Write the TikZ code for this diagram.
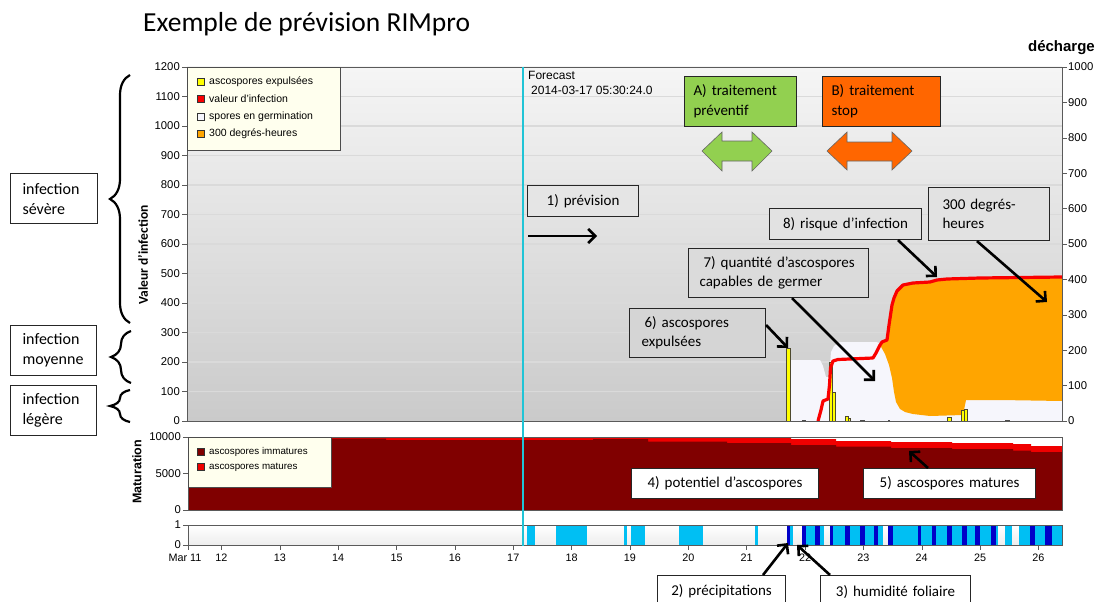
\documentclass[tikz,border=0pt]{standalone}
\usepackage{fontspec}
\setmainfont{Carlito}
\newfontfamily\arialf{Liberation Sans}
\usetikzlibrary{arrows.meta,decorations.pathreplacing,calc}

\definecolor{cyanl}{RGB}{32,196,214}
\definecolor{legfill}{RGB}{255,255,238}
\definecolor{yel}{RGB}{255,255,0}
\definecolor{redl}{RGB}{250,0,0}
\definecolor{orng}{RGB}{255,165,0}
\definecolor{spore}{RGB}{246,246,252}
\definecolor{matd}{RGB}{128,0,0}
\definecolor{matr}{RGB}{240,0,0}
\definecolor{lblue}{RGB}{0,191,243}
\definecolor{dblue}{RGB}{0,0,200}
\definecolor{greenb}{RGB}{146,208,80}
\definecolor{orangeb}{RGB}{255,102,0}
\definecolor{gridc}{RGB}{218,218,218}
\definecolor{bgtop}{RGB}{245,245,245}
\definecolor{bgbot}{RGB}{202,202,202}
\definecolor{axisc}{RGB}{90,90,90}
\definecolor{fa}{RGB}{229,229,229}
\definecolor{fb}{RGB}{226,226,226}
\definecolor{fc}{RGB}{219,219,219}
\definecolor{fd}{RGB}{213,213,213}

\newcommand\ind[1]{\hspace*{#1pt}}

\begin{document}
\begin{tikzpicture}[x=1pt,y=-1pt,
  ann/.style={draw=black!85, line width=1.1pt, inner sep=0pt, anchor=north west, font=\fontsize{15}{19}\selectfont, align=left},
  bigarrow/.style={line width=2.6pt, -{Straight Barb[length=7pt,width=14pt]}},
  bracestyle/.style={line width=2.2pt, decorate, decoration={brace, amplitude=20pt}},
  axlab/.style={font=\arialf\fontsize{11.3}{13}\selectfont, inner sep=1pt},
  xlab/.style={font=\arialf\fontsize{10.8}{12}\selectfont, inner sep=0pt},
  leg/.style={font=\arialf\fontsize{10.5}{12}\selectfont, inner sep=0pt, anchor=west},
  bar/.style={fill=yel, draw=black!60!olive, line width=0.6pt},
  frame/.style={draw=axisc, line width=0.8pt},
]
\useasboundingbox (0,0) rectangle (1096,602);
\fill[white] (0,0) rectangle (1096,602);

% title
\node[anchor=base west, inner sep=0pt, font=\fontsize{27.5}{32}\selectfont] (title) at (143,32) {Exemple de prévision RIMpro};
\node[anchor=base east, inner sep=0pt, font=\arialf\bfseries\fontsize{15}{18}\selectfont] (dech) at (1095,52) {décharge};

% ---------- main plot ----------
\shade[top color=bgtop, bottom color=bgbot] (187,67) rectangle (1062,421);
\foreach \v in {1,...,11} \draw[gridc, line width=1.2pt] (187,{421-\v*29.5}) -- (1062,{421-\v*29.5});

% spores en germination
\fill[spore] (790,421) -- (790,360) -- (820,360) -- (823,366) -- (826,377) -- (829,377) -- (831,352) -- (834,346) -- (840,342) -- (876,342) -- (880,343) -- (886,340) -- (1062,340) -- (1062,421) -- cycle;
% 300 degres-heures
\fill[orng] (880,345) -- (882,342) -- (887,340) -- (889,325) -- (892,305) -- (894,298) -- (897,291) -- (903,285) -- (913,283) -- (930,282) -- (937,280) -- (947,279) -- (980,278) -- (1062,277) -- (1062,401) -- (1000,400) -- (966,400) -- (963,415) -- (930,416) -- (913,414) -- (905,412) -- (900,409) -- (896,402) -- (894,392) -- (892,378) -- (889,365) -- (885,354) -- cycle;
% ascospores expulsees
\filldraw[bar] (786.5,348) rectangle (790,421);
\filldraw[bar] (829,362) rectangle (832.5,421);
\filldraw[bar] (832.5,392) rectangle (835.5,421);
\filldraw[bar] (845,416) rectangle (848,421);
\filldraw[bar] (848,418) rectangle (850,421);
\filldraw[bar] (947,417) rectangle (951,421);
\filldraw[bar] (961,410) rectangle (964,421);
\filldraw[bar] (964,409) rectangle (967,421);
\foreach \a/\b in {802/806,860/865,888/890,1005/1010} \fill[black!70] (\a,419.5) rectangle (\b,421);
% valeur d'infection
\draw[redl, line width=3.2pt, line join=round] (818,421) -- (821,410) -- (823,401) -- (828,399) -- (829.5,385) -- (830.5,368) -- (833,361) -- (838,359.5) -- (873,358) -- (876,353) -- (880,345) -- (882,342) -- (887,340) -- (889,325) -- (892,305) -- (894,298) -- (897,291) -- (903,285) -- (913,283) -- (930,282) -- (937,280) -- (947,279) -- (980,278) -- (1062,277);

\draw[frame] (187,67) rectangle (1062,421);

% legend
\draw[black!70, fill=legfill, line width=0.8pt] (187,67) rectangle (340,150);
\foreach \c/\y/\t [count=\i] in {yel/82/ascospores expulsées, redl/99/valeur d’infection, spore/117/spores en germination, orng/134/300 degrés-heures} {
  \filldraw[fill=\c, draw=black!80, line width=0.6pt] (197,{\y-3.5}) rectangle (204,{\y+3.5});
  \node[leg] (leg\i) at (209,\y) {\t};
}

% axes
\foreach \v in {0,...,12} {
  \draw[axisc] (182,{421-\v*29.5}) -- (187,{421-\v*29.5});
  \pgfmathtruncatemacro\lab{\v*100}
  \node[axlab, anchor=east] (yl\v) at (181,{421-\v*29.5}) {\lab};
}
\foreach \v in {0,...,10} {
  \draw[axisc] (1062,{421-\v*35.4}) -- (1067,{421-\v*35.4});
  \pgfmathtruncatemacro\lab{\v*100}
  \node[axlab, anchor=west] (yr\v) at (1067,{421-\v*35.4}) {\lab};
}
\node[rotate=90, inner sep=0pt, font=\bfseries\fontsize{13.5}{15}\selectfont] (ylab) at (143,255) {Valeur d’infection};

% ---------- maturation ----------
\fill[white] (188,437) rectangle (1062,510);
\fill[matr] (188,510) -- (188,437) -- (791,437) -- (791,439) -- (836,439) -- (836,441) -- (891,441) -- (891,442) -- (952,442) -- (952,443) -- (1013,443) -- (1013,444) -- (1031,444) -- (1031,446) -- (1062,446) -- (1062,510) -- cycle;
\fill[matd] (188,510) -- (188,437) -- (331,437) -- (331,438.5) -- (386,438.5) -- (386,440) -- (593,440) -- (593,439) -- (648,439) -- (648,441.5) -- (727,441.5) -- (727,443) -- (791,443) -- (791,445) -- (836,445) -- (836,446.5) -- (891,446.5) -- (891,448) -- (952,448) -- (952,449) -- (1013,449) -- (1013,450.5) -- (1031,450.5) -- (1031,452) -- (1062,452) -- (1062,510) -- cycle;
\draw[frame] (188,437) rectangle (1062,510);
\draw[black!70, fill=legfill, line width=0.8pt] (188,437) rectangle (331,487);
\filldraw[fill=matd, draw=black!80, line width=0.6pt] (197,448.5) rectangle (204,455.5);
\node[leg, font=\arialf\fontsize{9.8}{12}\selectfont] (mleg1) at (209,452) {ascospores immatures};
\filldraw[fill=matr, draw=black!80, line width=0.6pt] (197,463.5) rectangle (204,470.5);
\node[leg, font=\arialf\fontsize{9.8}{12}\selectfont] (mleg2) at (209,467) {ascospores matures};
\foreach \y/\t [count=\i] in {437/10000,473.5/5000,510/0} {
  \draw[axisc] (183,\y) -- (188,\y);
  \node[axlab, anchor=east] (ml\i) at (182,\y) {\t};
}
\node[rotate=90, inner sep=0pt, font=\arialf\bfseries\fontsize{12.5}{14}\selectfont] (matlab) at (137,472) {Maturation};

% ---------- timeline ----------
\shade[top color=white, bottom color=gray!14] (188,525) rectangle (1062,545);
\foreach \a/\b in {527/535,556/586.5,624/627,631/645,679/703,755/758,790/793,806/815,820/824,833/845,850/860,865/874,878/883,893/918,921/932,936/947,952/962,967/975,980/991,996/998,1005/1012,1019/1030,1035/1045,1052/1062}
  \fill[lblue] (\a,525) rectangle (\b,545);
\foreach \a/\b in {787/790,802/806,815/820,830/833,845/850,860/865,874/878,888/893,918/921,932/936,947/952,962/967,975/980,991/996,1030/1035,1045/1052}
  \fill[dblue] (\a,525) rectangle (\b,545);
\draw[frame] (188,525) rectangle (1062,545);
\foreach \y/\t [count=\i] in {525/1,545/0} {
  \draw[axisc] (183,\y) -- (188,\y);
  \node[axlab, anchor=east] (tl\i) at (182,\y) {\t};
}
\draw[axisc] (188,545) -- (188,550);
\node[xlab] (xl11) at (185,558) {Mar 11};
\foreach \d in {12,...,26} {
  \pgfmathsetmacro\xx{221.5+(\d-12)*58.35}
  \draw[axisc] (\xx,545) -- (\xx,550);
  \node[xlab] (xl\d) at (\xx,558) {\d};
}

% forecast line
\draw[cyanl, line width=2.5pt] (523,67) -- (523,546);
\node[anchor=west, inner sep=0pt, font=\arialf\fontsize{12}{14}\selectfont] (fc1) at (528,75) {Forecast};
\node[anchor=west, inner sep=0pt, font=\arialf\fontsize{12}{14}\selectfont] (fc2) at (531,90) {2014-03-17 05:30:24.0};

% ---------- treatment boxes ----------
\node[ann, fill=greenb, minimum height=50pt, text width=112pt, font=\fontsize{15}{20}\selectfont] (bA) at (684,76) {\ind{9}A) traitement\\\ind{9}préventif};
\node[ann, fill=orangeb, minimum height=50pt, text width=118pt, font=\fontsize{15}{20}\selectfont] (bB) at (822,76) {\ind{9}B) traitement\\\ind{9}stop};
\filldraw[fill=greenb, draw=black!60, line width=0.6pt] (702,151) -- (722,132) -- (722,141) -- (752,141) -- (752,132) -- (772,151) -- (752,171) -- (752,161) -- (722,161) -- (722,171) -- cycle;
\filldraw[fill=orangeb, draw=black!60, line width=0.6pt] (827,151) -- (847,132) -- (847,142) -- (892,142) -- (892,132) -- (912,151) -- (892,170) -- (892,161) -- (847,161) -- (847,170) -- cycle;

% ---------- annotations ----------
\node[ann, fill=fa, minimum height=31pt, text width=111pt, align=center] (b1) at (527,185) {1) prévision};
\coordinate (p1s) at (528,236);
\coordinate (p1e) at (597,236);
\draw[bigarrow] (p1s) -- (p1e);

\node[ann, fill=fb, minimum height=31pt, text width=152pt, align=center] (b8) at (769,208) {8) risque d’infection};
\node[ann, fill=fb, minimum height=53pt, text width=121pt] (b300) at (928,187) {\ind{14}300 degrés-\\\ind{14}heures};
\node[ann, fill=fc, minimum height=49pt, text width=180pt] (b7) at (688,248) {\ind{15}7) quantité d’ascospores\\\ind{11}capables de germer};
\node[ann, fill=fd, minimum height=49pt, text width=136pt] (b6) at (629,308) {\ind{15}6) ascospores\\\ind{12}expulsées};

\coordinate (t8) at (937,277);
\coordinate (t300) at (1047,302);
\coordinate (t7) at (875,381);
\coordinate (t6) at (788,348);
\draw[bigarrow] ($(b8.south west)+(129,0)$) -- (t8);
\draw[bigarrow] ($(b300.south west)+(49,0)$) -- (t300);
\draw[bigarrow] ($(b7.south west)+(104,0)$) -- (t7);
\draw[bigarrow] ($(b6.north east)+(0,17)$) -- (t6);

\node[ann, fill=white, minimum height=30pt, text width=187pt, align=center] (b4) at (631,468) {4) potentiel d’ascospores};
\node[ann, fill=white, minimum height=30pt, text width=172pt, align=center] (b5) at (863,468) {5) ascospores matures};
\coordinate (t5) at (909,451);
\draw[bigarrow] ($(b5.north west)+(65,0)$) -- (t5);

\node[ann, fill=white, minimum height=32pt, text width=128pt, align=center] (b2) at (657,575) {2) précipitations};
\node[ann, fill=white, minimum height=32pt, text width=150pt, align=center] (b3) at (820,575) {3) humidité foliaire};
\coordinate (t2) at (788,543);
\coordinate (t3) at (797,545);
\draw[bigarrow] ($(b2.north west)+(106,0)$) -- (t2);
\draw[bigarrow] ($(b3.north west)+(10,0)$) -- (t3);

% ---------- severity ----------
\node[ann, fill=white, minimum height=50pt, text width=87pt, font=\fontsize{16}{20}\selectfont] (sev) at (10,173) {\ind{12}infection\\\ind{12}sévère};
\node[ann, fill=white, minimum height=50pt, text width=86pt, font=\fontsize{16}{20}\selectfont] (moy) at (10,325) {\ind{12}infection\\\ind{12}moyenne};
\node[ann, fill=white, minimum height=50pt, text width=86pt, font=\fontsize{16}{20}\selectfont] (leg) at (10,385) {\ind{12}infection\\\ind{12}légère};
\coordinate (s1a) at (130,323);
\coordinate (s1b) at (130,75);
\coordinate (s2a) at (131,383);
\coordinate (s2b) at (131,331);
\coordinate (s3a) at (130,422);
\coordinate (s3b) at (130,390);
\draw[bracestyle] (s1a) -- (s1b);
\draw[bracestyle] (s2a) -- (s2b);
\draw[bracestyle] (s3a) -- (s3b);
\end{tikzpicture}
\end{document}
